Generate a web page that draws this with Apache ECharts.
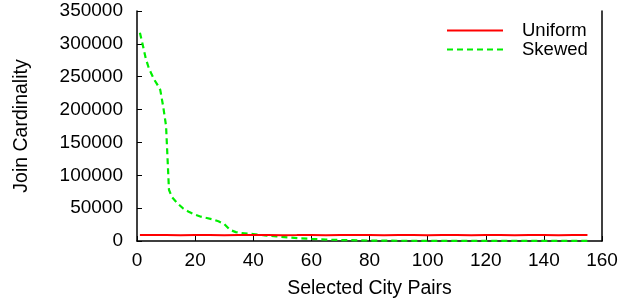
<!DOCTYPE html>
<html>
<head>
<meta charset="utf-8">
<script src="https://cdn.jsdelivr.net/npm/echarts@6/dist/echarts.min.js"></script>
<style>
  html, body { margin: 0; padding: 0; background: #fff; }
  #chart { width: 636px; height: 302px; }
</style>
</head>
<body>
<div id="chart"></div>
<script>
// values
const uniformX = [1, 5, 10, 15, 20, 25, 30, 35, 40, 45, 50, 55, 60, 65, 70, 75, 80, 85, 90, 95, 100, 105, 110, 115, 120, 125, 130, 135, 140, 145, 150, 155];
const uniformY = [9200, 9000, 9300, 8900, 9100, 9000, 8800, 9200, 9000, 9100, 8900, 9000, 9200, 8900, 9100, 9000, 9300, 8900, 9100, 9200, 8900, 9000, 9100, 8800, 9000, 9200, 8900, 9100, 9000, 8900, 9200, 9000];

const skewedX = [1, 2, 3, 4, 5, 6, 7, 8, 9, 10, 11, 12, 14, 16, 18, 20, 22, 24, 26, 28, 30, 32, 34, 36, 40, 44, 48, 52, 56, 60, 65, 70, 80, 90, 100, 120, 140, 155];
const skewedY = [317000, 298000, 278000, 264000, 254000, 245000, 238000, 230000, 205000, 175000, 78000, 67000, 57000, 49000, 44000, 40000, 37000, 35000, 33000, 30000, 26000, 17000, 13500, 12000, 10500, 8500, 7000, 5500, 4200, 3200, 2200, 1500, 700, 400, 300, 200, 150, 100];

const xTicks = { min: 0, max: 160, step: 20 };
const yTicks = { min: 0, max: 350000, step: 50000 };

const pairs = (xs, ys) => xs.map((x, i) => [x, ys[i]]);

const chart = echarts.init(document.getElementById("chart"));
const font = "Liberation Sans, Arial, sans-serif";

chart.setOption({
  animation: false,
  textStyle: { fontFamily: font },
  grid: { left: 137, right: 34, top: 11, bottom: 61, outerBoundsMode: "none", containLabel: false },
  legend: {
    orient: "vertical",
    left: 441,
    top: 16,
    itemWidth: 56,
    itemHeight: 10,
    itemGap: 0,
    itemStyle: { opacity: 0 },
    textStyle: { fontSize: 18.5, lineHeight: 19, color: "#000", fontFamily: font, padding: [0, 0, 0, 14] },
    data: ["Uniform", "Skewed"]
  },
  xAxis: {
    type: "value",
    min: xTicks.min,
    max: xTicks.max,
    interval: xTicks.step,
    name: "Selected City Pairs",
    nameLocation: "middle",
    nameGap: 38,
    nameTextStyle: { fontSize: 19.5, color: "#000", fontFamily: font },
    axisLine: { show: true, onZero: false, lineStyle: { color: "#000", width: 1.5 } },
    axisTick: { show: true, inside: true, length: 5, lineStyle: { color: "#000", width: 1 } },
    axisLabel: { fontSize: 19, color: "#000", margin: 10, fontFamily: font },
    splitLine: { show: false }
  },
  yAxis: [
    {
      type: "value",
      min: yTicks.min,
      max: yTicks.max,
      interval: yTicks.step,
      name: "Join Cardinality",
      nameLocation: "middle",
      nameGap: 105,
      nameTextStyle: { fontSize: 19.5, color: "#000", fontFamily: font },
      axisLine: { show: true, lineStyle: { color: "#000", width: 1.5 } },
      axisTick: { show: true, inside: true, length: 5, lineStyle: { color: "#000", width: 1 } },
      axisLabel: { fontSize: 19, color: "#000", margin: 14, fontFamily: font, formatter: (v) => String(v) },
      splitLine: { show: false }
    },
    {
      type: "value",
      position: "right",
      min: yTicks.min,
      max: yTicks.max,
      interval: yTicks.step,
      axisLine: { show: true, lineStyle: { color: "#000", width: 1.5 } },
      axisTick: { show: false },
      axisLabel: { show: false },
      splitLine: { show: false }
    }
  ],
  series: [
    {
      name: "Uniform",
      type: "line",
      symbol: "none",
      data: pairs(uniformX, uniformY),
      lineStyle: { color: "#ff0000", width: 2 },
      itemStyle: { color: "#ff0000" },
      z: 3
    },
    {
      name: "Skewed",
      type: "line",
      symbol: "none",
      data: pairs(skewedX, skewedY),
      lineStyle: { color: "#00ee00", width: 2.2, type: [6, 4] },
      itemStyle: { color: "#00ee00" },
      z: 2
    }
  ]
});
</script>
</body>
</html>
